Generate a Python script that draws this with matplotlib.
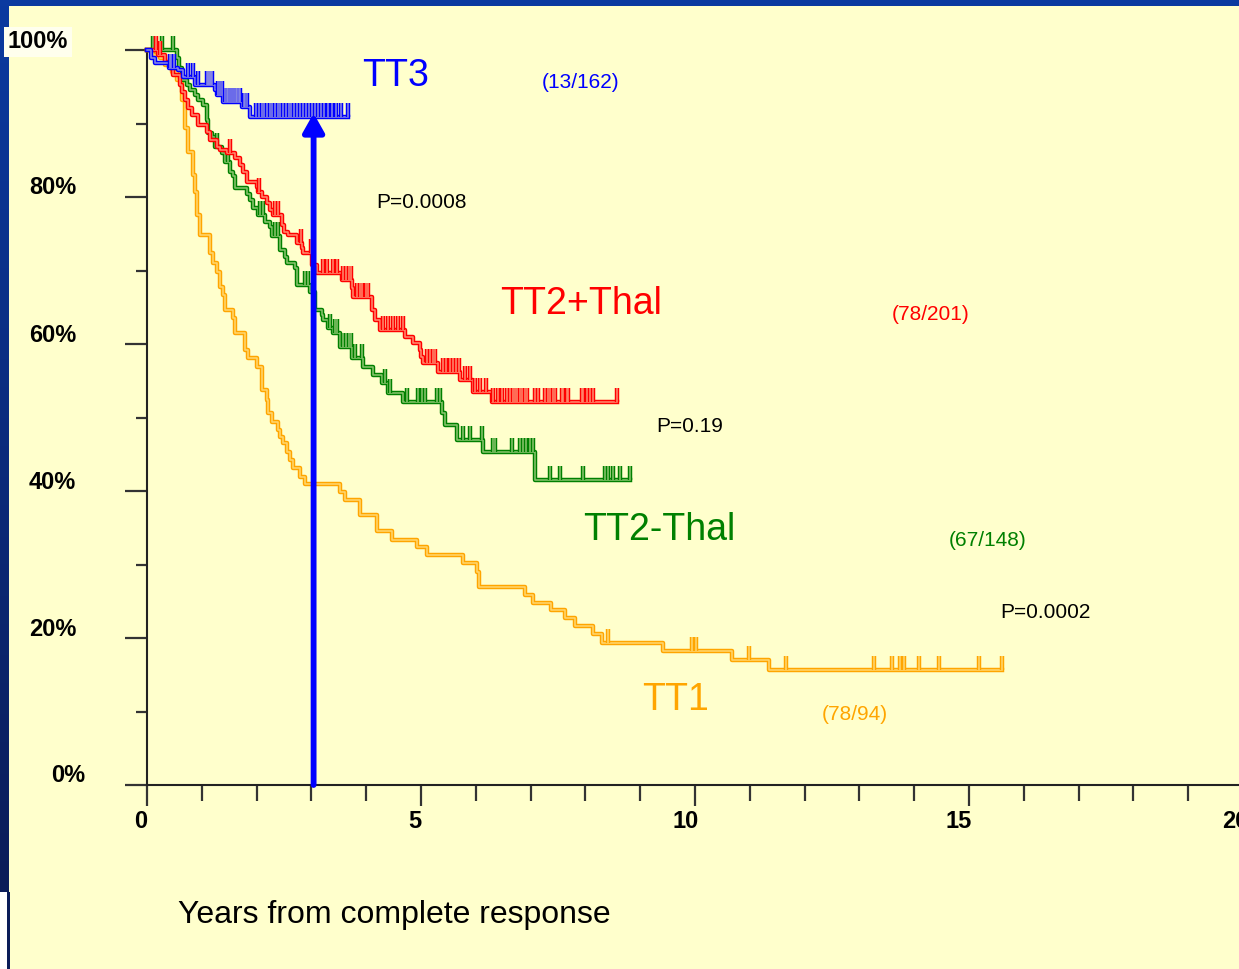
import numpy as np
import matplotlib
matplotlib.use("Agg")
import matplotlib.pyplot as plt
import matplotlib.patheffects as pe
from matplotlib.colors import to_rgb, LinearSegmentedColormap

W, H = 1239, 969
BG = "#FFFFCC"
FONT = "Liberation Sans"

# ---------------- data (years, % event-free) ----------------
tt3_times = [0.07, 0.15, 0.40, 0.57, 0.66, 0.88, 1.24, 1.28, 1.39, 1.73, 1.88]
tt3_surv = [98.9, 98.2, 97.6, 97.3, 96.3, 95.2, 94.6, 93.9, 92.9, 92.2, 90.9]
tt3_censor = [0.42, 0.44, 0.50, 0.75, 0.84, 0.93, 1.09, 1.11, 1.13, 1.15, 1.17, 1.19,
              1.30, 1.33, 1.37, 1.42, 1.46, 1.48, 1.51, 1.55, 1.59, 1.62, 1.64, 1.68,
              1.70, 1.77, 1.79, 1.82, 1.99, 2.04, 2.10, 2.14, 2.19, 2.24, 2.28, 2.34,
              2.39, 2.43, 2.48, 2.54, 2.59, 2.63, 2.68, 2.74, 2.79, 2.85, 2.90, 2.96,
              3.01, 3.07, 3.12, 3.18, 3.23, 3.30, 3.38, 3.45, 3.54, 3.67]
tt3_end = 3.67

tt2p_times = [0.20, 0.33, 0.42, 0.47, 0.60, 0.64, 0.69, 0.75, 0.82, 0.93,
              1.09, 1.15, 1.28, 1.33, 1.46, 1.61, 1.70, 1.75, 1.82, 2.01,
              2.03, 2.10, 2.19, 2.24, 2.30, 2.46, 2.50, 2.57, 2.74, 2.83,
              2.85, 3.01, 3.10, 3.56, 3.74, 3.76, 4.11, 4.16, 4.25, 4.71,
              4.85, 4.98, 5.00, 5.04, 5.31, 5.71, 5.95, 6.30]
tt2p_surv = [99.3, 98.4, 97.6, 96.6, 95.2, 94.3, 93.2, 92.1, 91.2, 89.8,
             88.8, 87.8, 86.8, 86.4, 86.0, 85.3, 84.4, 83.4, 82.0, 81.4,
             80.7, 80.0, 79.2, 78.2, 77.6, 76.2, 75.2, 74.8, 73.7, 73.1,
             72.4, 70.7, 69.7, 68.7, 67.6, 66.4, 64.6, 63.3, 61.9, 61.0,
             60.1, 59.2, 58.2, 57.4, 56.2, 55.1, 53.5, 52.1]
tt2p_censor = [0.17, 0.24, 1.51, 2.05, 2.34, 2.39, 2.81, 2.99, 3.21, 3.28, 3.39, 3.47,
               3.58, 3.63, 3.69, 3.72, 3.83, 3.89, 3.92, 4.00, 4.03, 4.31, 4.40,
               4.49, 4.58, 4.67, 5.11, 5.16, 5.22, 5.26, 5.40, 5.46, 5.53, 5.58,
               5.64, 5.69, 5.80, 5.89, 5.99, 6.08, 6.19, 6.31, 6.41, 6.48, 6.57,
               6.62, 6.68, 6.72, 6.75, 6.81, 6.84, 6.90, 6.93, 7.08, 7.14, 7.26,
               7.32, 7.35, 7.41, 7.45, 7.57, 7.59, 7.66, 7.68, 7.94, 7.96, 8.03,
               8.08, 8.14, 8.58]
tt2p_end = 8.58

tt2m_times = [0.55, 0.58, 0.64, 0.73, 0.78, 0.88, 0.93, 1.02, 1.09, 1.11,
              1.19, 1.24, 1.37, 1.42, 1.51, 1.57, 1.61, 1.82, 1.88, 1.93,
              2.03, 2.15, 2.24, 2.28, 2.43, 2.52, 2.55, 2.70, 2.74, 2.97,
              3.07, 3.19, 3.21, 3.30, 3.39, 3.52, 3.74, 3.94, 4.12, 4.29,
              4.40, 4.67, 5.38, 5.44, 5.66, 6.13, 7.08]
tt2m_surv = [98.9, 97.6, 95.9, 95.2, 94.6, 93.9, 93.2, 92.5, 90.5, 88.7,
             88.2, 86.8, 86.0, 84.8, 83.4, 82.9, 81.2, 80.4, 79.6, 78.5,
             77.6, 76.6, 75.9, 74.7, 72.8, 71.8, 71.0, 70.3, 68.0, 67.1,
             64.6, 63.9, 63.3, 62.2, 61.5, 59.6, 58.1, 56.9, 55.8, 54.7,
             53.3, 52.1, 50.6, 49.0, 46.9, 45.3, 41.5]
tt2m_censor = [0.11, 0.15, 0.27, 0.47, 1.28, 1.48, 2.06, 2.12, 2.34, 2.39, 2.88,
               2.94, 3.34, 3.43, 3.47, 3.58, 3.63, 3.69, 3.72, 3.80, 3.92, 4.34,
               4.43, 4.74, 4.95, 5.02, 5.07, 5.29, 5.35, 5.77, 5.89, 6.11, 6.31,
               6.35, 6.66, 6.81, 6.86, 6.92, 6.99, 7.04, 7.35, 7.54, 7.96, 8.36,
               8.41, 8.50, 8.63, 8.81]
tt2m_end = 8.81

tt1_times = [0.11, 0.24, 0.33, 0.46, 0.55, 0.64, 0.69, 0.75, 0.84, 0.88,
             0.91, 0.97, 1.15, 1.20, 1.28, 1.33, 1.39, 1.42, 1.57, 1.61,
             1.79, 1.84, 2.01, 2.10, 2.19, 2.21, 2.28, 2.39, 2.43, 2.48,
             2.55, 2.61, 2.66, 2.79, 2.88, 3.52, 3.61, 3.89, 4.20, 4.47,
             4.93, 5.11, 5.77, 6.02, 6.06, 6.90, 7.04, 7.37, 7.63, 7.81,
             8.14, 8.30, 9.42, 10.68, 11.35]
tt1_surv = [99.3, 98.9, 98.0, 97.0, 95.9, 93.2, 89.4, 86.1, 83.0, 80.7,
            77.6, 74.8, 72.4, 71.0, 69.8, 67.8, 66.7, 64.6, 63.5, 61.5,
            59.2, 58.1, 56.9, 53.7, 52.4, 50.6, 49.4, 48.3, 47.3, 46.5,
            45.3, 44.2, 43.1, 41.9, 41.0, 39.9, 38.8, 36.7, 34.6, 33.3,
            32.4, 31.3, 30.2, 29.0, 26.9, 25.9, 24.8, 23.8, 22.7, 21.6,
            20.5, 19.3, 18.2, 17.0, 15.6]
tt1_censor = [8.41, 9.95, 10.02, 10.99, 11.66, 13.27, 13.59, 13.74, 13.81,
              14.09, 14.45, 15.18, 15.60]
tt1_end = 15.60

arrow_time = 3.04
arrow_top = 91.4

ytick_vals = [0, 20, 40, 60, 80, 100]
ytick_labels = ["0%", "20%", "40%", "60%", "80%", "100%"]
xtick_vals = [0, 5, 10, 15, 20]
xtick_labels = ["0", "5", "10", "15", "20"]

BLUE = "#0000FF"
RED = "#FF0000"
GREEN = "#008000"
ORANGE = "#FFA500"

# ---------------- figure ----------------
fig = plt.figure(figsize=(W / 100, H / 100), dpi=100, facecolor=BG)

# border decoration
grad = np.linspace(0, 1, 256).reshape(-1, 1)
bcmap = LinearSegmentedColormap.from_list("b", ["#0b3aa0", "#0a1c58"])
axl = fig.add_axes([0, (H - 892) / H, 9 / W, 892 / H])
axl.imshow(grad, aspect="auto", cmap=bcmap, extent=[0, 1, 0, 1], origin="upper")
axl.axis("off")
axt = fig.add_axes([0, (H - 6) / H, 1, 6 / H])
axt.set_facecolor("#0b3aa0")
axt.set_xticks([]); axt.set_yticks([])
for s in axt.spines.values():
    s.set_visible(False)
fig.patches.append(plt.Rectangle((0, 0), 7 / W, (H - 892) / H, transform=fig.transFigure,
                                 facecolor="white", edgecolor="none"))
fig.patches.append(plt.Rectangle((7 / W, 0), 3 / W, (H - 892) / H, transform=fig.transFigure,
                                 facecolor="#0a1c58", edgecolor="none"))

ax = fig.add_axes([147 / W, (H - 785) / H, (1243 - 147) / W, (785 - 50) / H])
ax.set_facecolor("none")
ax.set_xlim(0, 20)
ax.set_ylim(0, 100)
for s in ["top", "right"]:
    ax.spines[s].set_visible(False)
for s in ["left", "bottom"]:
    ax.spines[s].set_color("#222222")
    ax.spines[s].set_linewidth(1.5)
ax.set_xticks(xtick_vals)
ax.set_xticks(np.arange(0, 21, 1), minor=True)
ax.set_yticks(ytick_vals)
ax.set_yticks([10, 30, 50, 70, 90], minor=True)
ax.tick_params(axis="x", which="major", length=15, width=1.6, color="#333333",
               labelbottom=False)
ax.tick_params(axis="x", which="minor", length=11.5, width=1.6, color="#333333")
ax.tick_params(axis="y", which="major", length=16, width=1.6, color="#333333",
               labelleft=False)
ax.tick_params(axis="y", which="minor", length=8, width=1.6, color="#333333")


def light(c, f=0.5):
    a = np.array(to_rgb(c)); b = np.array(to_rgb(BG))
    return tuple(a * f + b * (1 - f))


def effects(c):
    return [pe.Stroke(linewidth=3.2, foreground=c),
            pe.Stroke(linewidth=1.1, foreground=light(c, 0.45))]


def draw_km(times, surv, censor, end, color):
    x = np.r_[0.0, times, end]
    y = np.r_[100.0, surv, surv[-1]]
    ax.step(x, y, where="post", color=color, lw=3, clip_on=False,
            path_effects=effects(color), zorder=3)
    t = np.asarray(times)
    s = np.r_[100.0, surv]
    lev = s[np.searchsorted(t, np.asarray(censor), side="right")]
    ax.vlines(censor, lev, lev + 1.9, color=color, lw=3, clip_on=False,
              path_effects=effects(color), zorder=3)


draw_km(tt1_times, tt1_surv, tt1_censor, tt1_end, ORANGE)
draw_km(tt2m_times, tt2m_surv, tt2m_censor, tt2m_end, GREEN)
draw_km(tt2p_times, tt2p_surv, tt2p_censor, tt2p_end, RED)
draw_km(tt3_times, tt3_surv, tt3_censor, tt3_end, BLUE)

ax.annotate("", xy=(arrow_time, arrow_top), xytext=(arrow_time, 0),
            arrowprops=dict(arrowstyle="-|>,head_length=0.8,head_width=0.45",
                            color=BLUE, lw=4.2, shrinkA=0, shrinkB=0,
                            mutation_scale=14),
            zorder=5)


def ftext(px, py, s, **kw):
    kw.setdefault("ha", "center")
    kw.setdefault("va", "center")
    kw.setdefault("family", FONT)
    fig.text(px / W, 1 - py / H, s, **kw)


# y tick labels
ylab_pos = {0: (85, 775), 20: (76, 629), 40: (76, 482), 60: (76, 335), 80: (76, 188), 100: (68, 42)}
for v, lab in zip(ytick_vals, ytick_labels):
    px, py = ylab_pos[v]
    kw = dict(ha="right", fontsize=17, fontweight="bold", color="black")
    if v == 100:
        kw["bbox"] = dict(boxstyle="square,pad=0.15", facecolor="#FFFFEE", edgecolor="none")
    ftext(px, py, lab, **kw)

xlab_px = [141, 415, 686, 959, 1235]
for px, lab in zip(xlab_px, xtick_labels):
    ftext(px, 822, lab, fontsize=17, fontweight="bold", color="black")

ftext(394, 915, "Years from complete response", fontsize=23, color="black")

ftext(396, 76, "TT3", fontsize=27, color=BLUE)
ftext(581, 83, "(13/162)", fontsize=15, color=BLUE)
ftext(421, 203, "P=0.0008", fontsize=15, color="black")
ftext(581, 304, "TT2+Thal", fontsize=27, color=RED)
ftext(931, 315, "(78/201)", fontsize=15, color=RED)
ftext(690, 427, "P=0.19", fontsize=15, color="black")
ftext(659, 530, "TT2-Thal", fontsize=27, color=GREEN)
ftext(988, 540, "(67/148)", fontsize=15, color=GREEN)
ftext(1045, 612, "P=0.0002", fontsize=15, color="black")
ftext(676, 700, "TT1", fontsize=27, color=ORANGE)
ftext(855, 714, "(78/94)", fontsize=15, color=ORANGE)

fig.savefig("out.png", dpi=100, facecolor=BG)
